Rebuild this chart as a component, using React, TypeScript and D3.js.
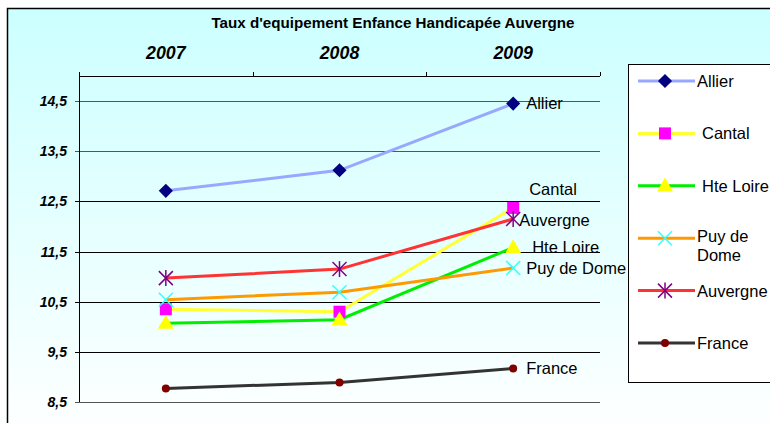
import * as d3 from "d3"

const years = ["2007", "2008", "2009"]
const yTicks = [8.5, 9.5, 10.5, 11.5, 12.5, 13.5, 14.5]

const allier = [12.71, 13.12, 14.45]
const cantal = [10.35, 10.3, 12.37]
const hteLoire = [10.07, 10.14, 11.58]
const puyDeDome = [10.54, 10.69, 11.17]
const auvergne = [10.97, 11.15, 12.15]
const france = [8.77, 8.89, 9.17]

type Marker = "diamond" | "square" | "triangle" | "x" | "star" | "circle"

const series = [
  { name: "Allier", values: allier, line: "#99a8ff", mark: "#000080", marker: "diamond" as Marker, label: ["Allier"], dx: 13, dy: 5.5, lx: 697 },
  { name: "Cantal", values: cantal, line: "#ffff33", mark: "#ff00ff", marker: "square" as Marker, label: ["Cantal"], dx: 16, dy: -12.5, lx: 702 },
  { name: "Hte Loire", values: hteLoire, line: "#00ee00", mark: "#ffff00", marker: "triangle" as Marker, label: ["Hte Loire"], dx: 19, dy: 5, lx: 702 },
  { name: "Puy de Dome", values: puyDeDome, line: "#ff9900", mark: "#33ffff", marker: "x" as Marker, label: ["Puy de", "Dome"], dx: 13, dy: 5.5, lx: 697 },
  { name: "Auvergne", values: auvergne, line: "#ff3333", mark: "#800080", marker: "star" as Marker, label: ["Auvergne"], dx: 6, dy: 7.5, lx: 697 },
  { name: "France", values: france, line: "#333333", mark: "#800000", marker: "circle" as Marker, label: ["France"], dx: 13, dy: 5.5, lx: 697 },
]

function MarkerShape({ type, x, y, color }: { type: Marker; x: number; y: number; color: string }) {
  if (type === "diamond")
    return <path d={d3.symbol(d3.symbolSquare, 100)()!} transform={`translate(${x},${y}) rotate(45)`} fill={color} />
  if (type === "square") return <rect x={x - 6} y={y - 6} width={12} height={12} fill={color} />
  if (type === "triangle")
    return <path d={d3.symbol(d3.symbolTriangle, 110)()!} transform={`translate(${x},${y + 1})`} fill={color} />
  if (type === "circle") return <circle cx={x} cy={y} r={4} fill={color} />
  const s = 7
  const lines = [
    [-s, -s, s, s],
    [-s, s, s, -s],
  ]
  if (type === "star") lines.push([0, -s - 1, 0, s + 1])
  return (
    <g stroke={color} strokeWidth={1.5}>
      {lines.map((l, i) => (
        <line key={i} x1={x + l[0]} y1={y + l[1]} x2={x + l[2]} y2={y + l[3]} />
      ))}
    </g>
  )
}

export default function App() {
  const width = 770
  const height = 423
  const left = 79
  const right = 600
  const top = 76

  const x = d3.scaleBand().domain(years).range([left, right])
  const y = d3.scaleLinear().domain([8.5, 15]).range([402, top])
  const cx = (d: string) => x(d)! + x.bandwidth() / 2

  const lineGen = d3
    .line<number>()
    .x((_, i) => cx(years[i]))
    .y((v) => y(v))

  const font = "'Liberation Sans', Arial, sans-serif"

  return (
    <div style={{ position: "fixed", left: 0, top: 0 }}>
      <svg width={width} height={height} style={{ display: "block" }} fontFamily={font}>
        <defs>
          <linearGradient id="bg" x1="0" y1="0" x2="0" y2="1">
            <stop offset="0" stopColor="#ccffff" />
            <stop offset="1" stopColor="#ffffff" />
          </linearGradient>
        </defs>
        <rect width={width} height={height} fill="#fff" />
        <rect x={7.5} y={8.5} width={780} height={430} fill="url(#bg)" stroke="#000" strokeWidth={1.5} />

        <text x={393} y={28} textAnchor="middle" fontSize={15.2} fontWeight="bold">
          Taux d'equipement Enfance Handicapée Auvergne
        </text>

        {years.map((yr) => (
          <text key={yr} x={cx(yr)} y={59} textAnchor="middle" fontSize={17.8} fontWeight="bold" fontStyle="italic">
            {yr}
          </text>
        ))}

        {/* grid lines */}
        {yTicks.map((t) => (
          <g key={t}>
            <line x1={left - 4} x2={right} y1={Math.round(y(t)) + 0.5} y2={Math.round(y(t)) + 0.5} stroke={t === 8.5 || t > 13 ? "#555" : "#000"} />
            <text x={67} y={y(t) + 5} textAnchor="end" fontSize={14} fontWeight="bold" fontStyle="italic">
              {String(t).replace(".", ",")}
            </text>
          </g>
        ))}

        {/* top category axis */}
        <line x1={left} x2={right} y1={top + 0.5} y2={top + 0.5} stroke="#000" />
        {[...years.map((yr) => x(yr)!), right].map((p, i) => (
          <line key={i} x1={Math.round(p) + 0.5} x2={Math.round(p) + 0.5} y1={top - 4} y2={top} stroke="#000" />
        ))}
        <line x1={left + 0.5} x2={left + 0.5} y1={top} y2={402} stroke="#000" />

        {series.map((s) => (
          <path key={s.name} d={lineGen(s.values)!} fill="none" stroke={s.line} strokeWidth={3} />
        ))}
        {series.map((s) => (
          <g key={s.name}>
            {s.values.map((v, i) => (
              <MarkerShape key={i} type={s.marker} x={cx(years[i])} y={y(v)} color={s.mark} />
            ))}
            <text x={cx("2009") + s.dx} y={y(s.values[2]) + s.dy} fontSize={16.5} fill="#000">
              {s.name}
            </text>
          </g>
        ))}

        {/* legend */}
        <rect x={628.5} y={64.5} width={160} height={318} fill="#fff" stroke="#000" />
        {series.map((s, i) => {
          const ly = 81 + i * 52.4
          return (
            <g key={s.name}>
              <line x1={638} x2={695} y1={ly} y2={ly} stroke={s.line} strokeWidth={3} />
              <MarkerShape type={s.marker} x={665} y={ly} color={s.mark} />
              {s.label.map((t, j) => (
                <text key={j} x={s.lx} y={ly + (s.label.length > 1 ? 4 : 6) + j * 19} fontSize={16.5}>
                  {t}
                </text>
              ))}
            </g>
          )
        })}
      </svg>
    </div>
  )
}
